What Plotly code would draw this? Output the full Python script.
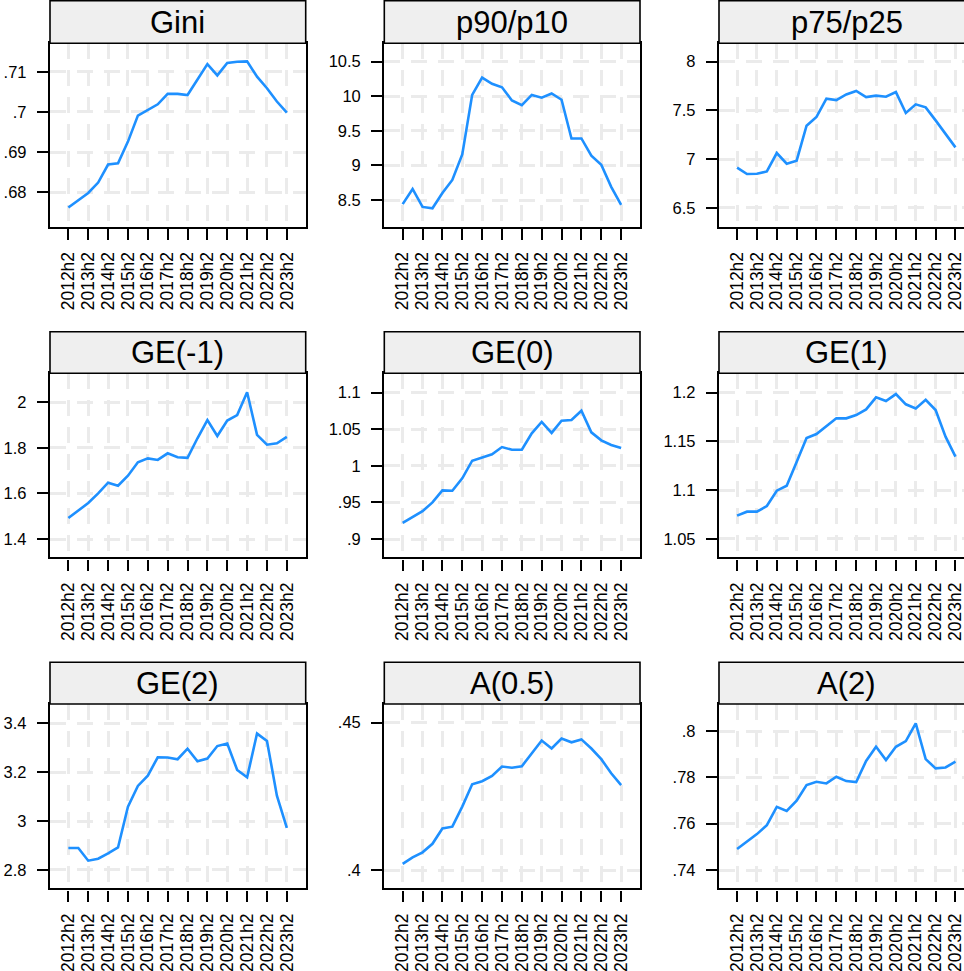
import plotly.graph_objects as go

# ---------------- data ----------------
periods = ["2012h2",
           "2013h1", "2013h2", "2014h1", "2014h2", "2015h1", "2015h2",
           "2016h1", "2016h2", "2017h1", "2017h2", "2018h1", "2018h2",
           "2019h1", "2019h2", "2020h1", "2020h2", "2021h1", "2021h2",
           "2022h1", "2022h2", "2023h1", "2023h2"]
x_ticklabels = [p for p in periods if p.endswith("h2")]

panel_titles = ["Gini", "p90/p10", "p75/p25",
                "GE(-1)", "GE(0)", "GE(1)",
                "GE(2)", "A(0.5)", "A(2)"]

gini = [.6762, .6781, .6798, .6824, .6869, .6872, .6926, .6991, .7005, .7019,
        .7045, .7045, .7042, .7081, .7119, .7091, .7122, .7125, .7126, .7088,
        .7059, .7026, .6998]
p90_p10 = [8.44, 8.66, 8.40, 8.38, 8.60, 8.79, 9.16, 10.02, 10.27, 10.18,
           10.13, 9.94, 9.87, 10.02, 9.98, 10.04, 9.95, 9.39, 9.39, 9.14,
           9.01, 8.69, 8.43]
p75_p25 = [6.911, 6.846, 6.849, 6.873, 7.062, 6.952, 6.983, 7.342, 7.432, 7.620,
           7.606, 7.664, 7.699, 7.637, 7.651, 7.640, 7.688, 7.473, 7.562, 7.531,
           7.397, 7.257, 7.120]
ge_m1 = [1.492, 1.524, 1.558, 1.600, 1.647, 1.634, 1.678, 1.737, 1.754, 1.747,
         1.776, 1.759, 1.756, 1.842, 1.922, 1.852, 1.920, 1.944, 2.044, 1.857,
         1.814, 1.820, 1.848]
ge_0 = [0.922, 0.9305, 0.938, 0.950, 0.9665, 0.966, 0.983, 1.007, 1.0116, 1.0157,
        1.0257, 1.022, 1.022, 1.0444, 1.060, 1.045, 1.0617, 1.0626, 1.0754, 1.0458,
        1.0349, 1.0285, 1.0244]
ge_1 = [1.0739, 1.078, 1.078, 1.0838, 1.0995, 1.1046, 1.1289, 1.1535, 1.1576, 1.1655,
        1.1737, 1.1737, 1.1771, 1.1829, 1.1952, 1.1915, 1.1986, 1.1881, 1.1839, 1.1928,
        1.1822, 1.1549, 1.1344]
ge_2 = [2.890, 2.890, 2.838, 2.846, 2.868, 2.892, 3.059, 3.144, 3.186, 3.261,
        3.260, 3.253, 3.296, 3.245, 3.256, 3.307, 3.317, 3.209, 3.179, 3.358,
        3.328, 3.104, 2.972]
a_05 = [.4021, .4043, .4060, .4089, .4141, .4147, .4215, .4291, .4301, .4319,
        .4351, .4347, .4352, .4396, .4439, .4412, .4446, .4433, .4443, .4412,
        .4376, .4328, .4288]
a_2 = [.7491, .7522, .7555, .7594, .7673, .7655, .7699, .7767, .7781, .7774,
       .7803, .7784, .7780, .7871, .7932, .7875, .7932, .7957, .8033, .7879,
       .7839, .7843, .7868]

series = [gini, p90_p10, p75_p25, ge_m1, ge_0, ge_1, ge_2, a_05, a_2]

y_tickvals = [
    [.68, .69, .70, .71],
    [8.5, 9, 9.5, 10, 10.5],
    [6.5, 7, 7.5, 8],
    [1.4, 1.6, 1.8, 2],
    [.9, .95, 1, 1.05, 1.1],
    [1.05, 1.1, 1.15, 1.2],
    [2.8, 3, 3.2, 3.4],
    [.4, .45],
    [.74, .76, .78, .8],
]
y_ticktext = [
    [".68", ".69", ".7", ".71"],
    ["8.5", "9", "9.5", "10", "10.5"],
    ["6.5", "7", "7.5", "8"],
    ["1.4", "1.6", "1.8", "2"],
    [".9", ".95", "1", "1.05", "1.1"],
    ["1.05", "1.1", "1.15", "1.2"],
    ["2.8", "3", "3.2", "3.4"],
    [".4", ".45"],
    [".74", ".76", ".78", ".8"],
]
y_ranges = [
    [0.6714, 0.7171],
    [8.114, 10.766],
    [6.305, 8.189],
    [1.320, 2.127],
    [0.875, 1.1265],
    [1.0312, 1.2199],
    [2.725, 3.479],
    [0.3938, 0.4563],
    [0.7321, 0.8117],
]

# ---------------- layout geometry (pixels) ----------------
W, H = 964, 971
col_px = [(50, 305.7), (384.3, 640), (719, 964)]
row_px = [(43.3, 226.7), (373.3, 557.3), (704, 888.3)]
strip_px = [(0.7, 43.3), (331.7, 373.3), (662.3, 704)]
x_ranges = [[-1.85, 23.9], [-1.85, 23.9], [-1.82, 22.86]]

FONT = "Liberation Sans, Arial, Helvetica, sans-serif"
LINE_BLUE = "#1e90ff"
GRID = "#ebebeb"

fig = go.Figure()
shapes = []
annotations = []

for k in range(9):
    r, c = divmod(k, 3)
    idx = "" if k == 0 else str(k + 1)
    xa = "xaxis" + idx
    ya = "yaxis" + idx
    fig.add_trace(go.Scatter(
        x=periods, y=series[k], mode="lines",
        line=dict(color=LINE_BLUE, width=2.6),
        xaxis="x" + idx, yaxis="y" + idx, showlegend=False,
        hoverinfo="skip"))
    x0, x1 = col_px[c]
    y0, y1 = row_px[r]
    fig.layout[xa] = dict(
        domain=[x0 / W, x1 / W], anchor="y" + idx,
        type="category", categoryorder="array", categoryarray=periods,
        range=x_ranges[c],
        tickmode="array", tickvals=x_ticklabels, ticktext=x_ticklabels,
        tickangle=-90, ticks="outside", ticklen=11, tickwidth=2,
        tickcolor="black",
        tickfont=dict(family=FONT, size=17.5, color="black"),
        showline=True, linecolor="black", linewidth=2.4, mirror=True,
        showgrid=True, gridcolor=GRID, gridwidth=2.5, griddash="16px,11px",
        zeroline=False, fixedrange=True, ticklabelstandoff=5,
        automargin=False,
    )
    fig.layout[ya] = dict(
        domain=[1 - y1 / H, 1 - y0 / H], anchor="x" + idx,
        range=y_ranges[k],
        tickmode="array", tickvals=y_tickvals[k], ticktext=y_ticktext[k],
        ticks="outside", ticklen=11, tickwidth=2, tickcolor="black",
        tickfont=dict(family=FONT, size=16.5, color="black"),
        showline=True, linecolor="black", linewidth=2.4,
        mirror=(c != 2),
        showgrid=True, gridcolor=GRID, gridwidth=2.5, griddash="16px,11px",
        zeroline=False, fixedrange=True, ticklabelstandoff=7,
        automargin=False,
    )
    # strip (title box)
    s0, s1 = strip_px[r]
    sx1 = x1 / W if c != 2 else 1.05
    shapes.append(dict(
        type="rect", xref="paper", yref="paper",
        x0=x0 / W, x1=sx1, y0=1 - s1 / H, y1=1 - s0 / H,
        fillcolor="#efefef", line=dict(color="black", width=1.6),
        layer="above"))
    annotations.append(dict(
        text=panel_titles[k], xref="paper", yref="paper",
        x=(x0 + (x0 + 255.7)) / 2 / W, y=1 - (s0 + s1) / 2 / H,
        xanchor="center", yanchor="middle", showarrow=False,
        font=dict(family=FONT, size=31, color="black")))

fig.update_layout(
    width=W, height=H,
    margin=dict(l=0, r=0, t=0, b=0, autoexpand=False),
    paper_bgcolor="white", plot_bgcolor="white",
    shapes=shapes, annotations=annotations,
    showlegend=False,
)

fig.write_html("out.html", config={"displayModeBar": False})
